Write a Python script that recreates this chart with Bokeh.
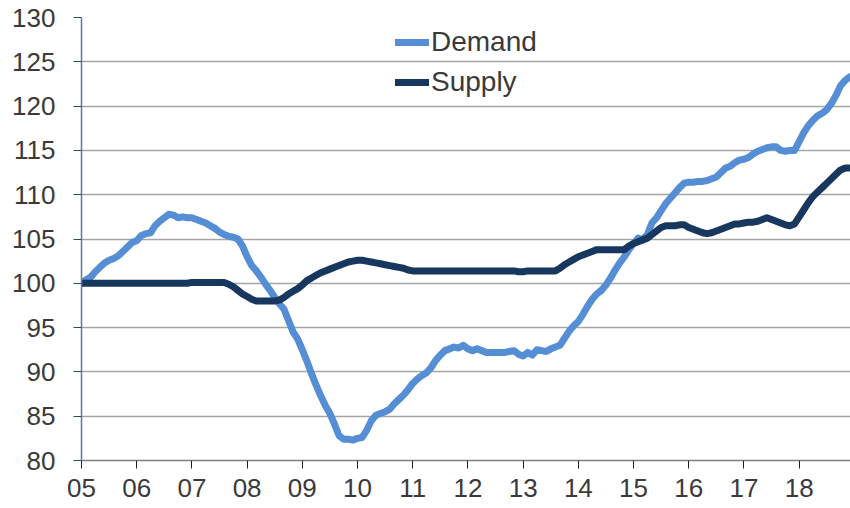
from bokeh.plotting import figure
from bokeh.models import Range1d, FixedTicker, Legend, LegendItem
from bokeh.embed import file_html
from bokeh.resources import INLINE

# Monthly index values, Jan 2005 - Dec 2018
start_year = 2005
demand = [
    100.0, 100.4, 100.7, 101.3, 101.8, 102.3, 102.6, 102.8, 103.1, 103.6, 104.1, 104.6,
    104.8, 105.4, 105.6, 105.7, 106.5, 107.0, 107.4, 107.8, 107.7, 107.4, 107.5, 107.4,
    107.4, 107.2, 107.0, 106.8, 106.5, 106.2, 105.8, 105.5, 105.3, 105.2, 105.0, 104.2,
    103.0, 102.0, 101.4, 100.7, 99.9, 99.2, 98.4, 97.7, 97.1, 95.8, 94.5, 93.7,
    92.5, 91.2, 89.8, 88.5, 87.3, 86.2, 85.3, 84.1, 82.8, 82.4, 82.4, 82.3,
    82.5, 82.6, 83.4, 84.5, 85.1, 85.3, 85.5, 85.8, 86.4, 86.9, 87.4, 88.0,
    88.7, 89.2, 89.6, 89.9, 90.5, 91.3, 91.9, 92.4, 92.6, 92.8, 92.7, 93.0,
    92.6, 92.4, 92.6, 92.4, 92.2, 92.2, 92.2, 92.2, 92.2, 92.3, 92.4, 92.0,
    91.8, 92.2, 91.9, 92.5, 92.4, 92.3, 92.6, 92.8, 93.0, 93.8, 94.6, 95.2,
    95.7, 96.5, 97.4, 98.2, 98.8, 99.2, 99.8, 100.6, 101.5, 102.3, 103.0, 103.8,
    104.5, 105.1, 104.9, 105.5, 106.8, 107.4, 108.2, 109.0, 109.6, 110.2, 110.8, 111.3,
    111.4, 111.4, 111.5, 111.5, 111.6, 111.8, 112.0, 112.5, 113.0, 113.2, 113.6, 113.9,
    114.0, 114.2, 114.6, 114.9, 115.1, 115.3, 115.4, 115.4, 115.0, 114.9, 115.0, 115.0,
    116.0, 117.0, 117.8, 118.4, 118.9, 119.2, 119.6, 120.3, 121.2, 122.3, 122.9, 123.3,
]
supply = [
    100.0, 100.0, 100.0, 100.0, 100.0, 100.0, 100.0, 100.0, 100.0, 100.0, 100.0, 100.0,
    100.0, 100.0, 100.0, 100.0, 100.0, 100.0, 100.0, 100.0, 100.0, 100.0, 100.0, 100.0,
    100.1, 100.1, 100.1, 100.1, 100.1, 100.1, 100.1, 100.1, 99.9, 99.6, 99.2, 98.8,
    98.5, 98.2, 98.0, 98.0, 98.0, 98.0, 98.0, 98.1, 98.4, 98.8, 99.1, 99.4,
    99.8, 100.3, 100.6, 100.9, 101.2, 101.4, 101.6, 101.8, 102.0, 102.2, 102.4, 102.5,
    102.6, 102.6, 102.5, 102.4, 102.3, 102.2, 102.1, 102.0, 101.9, 101.8, 101.7, 101.5,
    101.4, 101.4, 101.4, 101.4, 101.4, 101.4, 101.4, 101.4, 101.4, 101.4, 101.4, 101.4,
    101.4, 101.4, 101.4, 101.4, 101.4, 101.4, 101.4, 101.4, 101.4, 101.4, 101.4, 101.3,
    101.3, 101.4, 101.4, 101.4, 101.4, 101.4, 101.4, 101.4, 101.7, 102.1, 102.4, 102.7,
    103.0, 103.2, 103.4, 103.6, 103.8, 103.8, 103.8, 103.8, 103.8, 103.8, 103.8, 104.2,
    104.5, 104.7, 104.9, 105.1, 105.5, 105.9, 106.3, 106.5, 106.5, 106.5, 106.6, 106.6,
    106.3, 106.1, 105.9, 105.7, 105.6, 105.7, 105.9, 106.1, 106.3, 106.5, 106.7, 106.7,
    106.8, 106.9, 106.9, 107.0, 107.2, 107.4, 107.2, 107.0, 106.8, 106.6, 106.5, 106.7,
    107.5, 108.3, 109.1, 109.8, 110.3, 110.8, 111.3, 111.8, 112.3, 112.8, 113.0, 113.0,
]
year_ticks = list(range(2005, 2019))
year_labels = ["05", "06", "07", "08", "09", "10", "11", "12", "13", "14", "15", "16", "17", "18"]
y_ticks = [80, 85, 90, 95, 100, 105, 110, 115, 120, 125, 130]

months = [start_year + i / 12 for i in range(len(demand))]

FONT = "Liberation Sans"
TEXT = "#3a3a3a"

p = figure(width=850, height=508, output_backend="svg", toolbar_location=None,
           x_range=Range1d(2005, 2018.93), y_range=Range1d(80, 130),
           min_border_left=81, min_border_right=0, min_border_top=17, min_border_bottom=48)
p.outline_line_color = None
p.background_fill_color = "white"
p.border_fill_color = "white"

r_d = p.line(months, demand, line_color="#558ED5", line_width=7,
             line_join="round", line_cap="round")
r_s = p.line(months, supply, line_color="#17375E", line_width=7,
             line_join="round", line_cap="round")

p.xgrid.visible = False
p.ygrid.ticker = FixedTicker(ticks=y_ticks)
p.ygrid.grid_line_color = "#a6a6a6"
p.ygrid.grid_line_width = 1.5

p.xaxis.ticker = FixedTicker(ticks=year_ticks)
p.xaxis.major_label_overrides = {y: l for y, l in zip(year_ticks, year_labels)}
p.xaxis.major_tick_out = 8
p.xaxis.major_tick_in = 0
p.xaxis.minor_tick_line_color = None
p.xaxis.axis_line_color = "#808080"
p.xaxis.axis_line_width = 1.5
p.xaxis.major_tick_line_color = "#202020"
p.xaxis.major_label_standoff = 10
p.xaxis.major_label_text_font = FONT
p.xaxis.major_label_text_font_size = "26px"
p.xaxis.major_label_text_color = TEXT

p.yaxis.ticker = FixedTicker(ticks=y_ticks)
p.yaxis.major_tick_out = 8
p.yaxis.major_tick_in = 0
p.yaxis.minor_tick_line_color = None
p.yaxis.axis_line_color = "#5a7d96"
p.yaxis.axis_line_width = 1.5
p.yaxis.major_tick_line_color = "#1f4e79"
p.yaxis.major_label_standoff = 18
p.yaxis.major_label_text_font = FONT
p.yaxis.major_label_text_font_size = "26px"
p.yaxis.major_label_text_color = TEXT

legend = Legend(items=[LegendItem(label="Demand", renderers=[r_d]),
                       LegendItem(label="Supply", renderers=[r_s])],
                location=(314, 358), padding=0, margin=0, spacing=0,
                glyph_width=34, glyph_height=40, label_height=40,
                label_standoff=2, label_text_font=FONT, label_text_font_size="28px",
                label_text_color=TEXT, border_line_color=None, background_fill_alpha=0)
p.add_layout(legend)

open("out.html", "w").write(file_html(p, INLINE))
